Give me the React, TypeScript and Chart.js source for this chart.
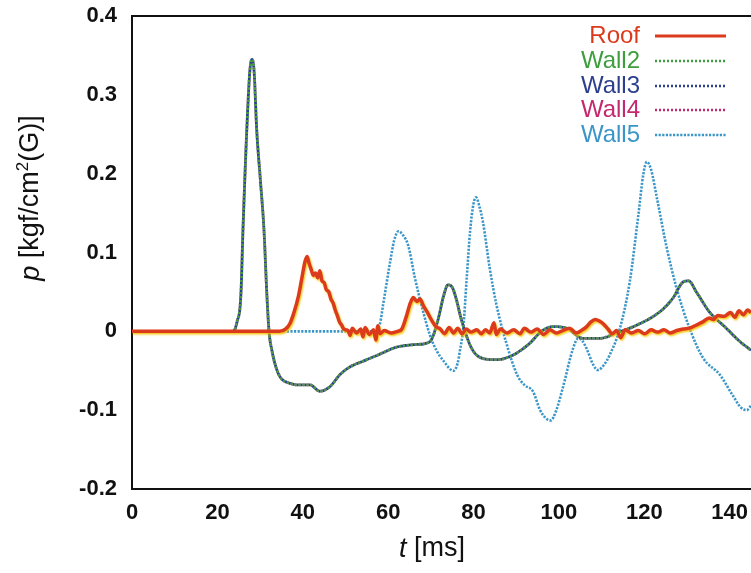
import React, { useEffect, useRef } from "react";
import { Chart, registerables } from "chart.js";

Chart.register(...registerables);

// ---- data ----
const seriesNames = ["Roof", "Wall2", "Wall3", "Wall4", "Wall5"];
const seriesColors = ["#dc3a1c", "#3c9e3c", "#2c3f8e", "#c4286e", "#3a96c8"];
const xTickValues = [0, 20, 40, 60, 80, 100, 120, 140];
const yTickValues = [-0.2, -0.1, 0, 0.1, 0.2, 0.3, 0.4];
const xRange = [0, 145];
const yRange = [-0.2, 0.4];

const roofTime = [
  0, 34.5, 36.0, 37.0, 38.0, 39.0, 39.8, 40.5, 41.0, 41.5, 42.0, 42.5, 43.0, 43.5, 44.0, 44.5, 45.0,
  45.5, 46.1, 46.6, 47.1, 47.6, 48.1, 48.6, 49.1, 49.6, 50.6, 51.1, 51.6, 52.6, 53.6, 54.1, 54.6, 55.6,
  56.6, 57.1, 57.6, 58.1, 59.1, 60.7, 62.2, 63.2, 64.2, 65.2, 65.9, 66.7, 67.5, 68.2, 69.2, 70.2, 71.2,
  72.2, 73.2, 74.3, 75.3, 76.3, 77.3, 78.3, 79.3, 80.8, 81.8, 82.8, 83.8, 84.8, 85.3, 86.3, 87.8, 89.4,
  90.9, 91.9, 93.4, 94.9, 96.4, 97.9, 99.4, 100.9, 102.5, 104.0, 105.5, 106.5, 107.5, 108.5, 109.5,
  110.5, 111.5, 112.5, 113.5, 114.5, 115.5, 117.0, 118.6, 120.1, 121.6, 123.1, 124.6, 126.1, 127.6,
  129.1, 130.6, 132.2, 133.7, 135.2, 136.2, 137.2, 138.7, 140.2, 141.2, 142.2, 143.2, 144.2, 145.0,
];
const roofP = [
  0, 0, 0.003, 0.01, 0.025, 0.045, 0.068, 0.088, 0.095, 0.086, 0.078, 0.071, 0.074, 0.068, 0.077, 0.064,
  0.062, 0.053, 0.05, 0.041, 0.036, 0.027, 0.02, 0.012, 0.008, 0.003, 0.001, -0.005, 0.004, -0.002,
  0.003, -0.007, 0.005, -0.004, 0.002, -0.011, 0.007, -0.003, 0.001, -0.002, 0, 0.003, 0.018, 0.036,
  0.043, 0.038, 0.041, 0.033, 0.024, 0.014, 0.006, 0.003, -0.003, 0.005, -0.002, 0.004, -0.003, 0.003,
  -0.001, 0.002, -0.003, 0.002, -0.002, 0.011, -0.004, 0.003, -0.002, 0.002, -0.003, 0.004, -0.001,
  0.003, -0.004, 0.002, -0.002, 0.001, 0.004, -0.002, 0.002, 0.006, 0.012, 0.015, 0.013, 0.009, 0.003,
  -0.003, 0.001, -0.008, 0.002, -0.002, 0.001, -0.003, 0.002, -0.001, 0.002, -0.002, 0.001, 0.003,
  0.004, 0.008, 0.012, 0.017, 0.015, 0.02, 0.019, 0.024, 0.018, 0.026, 0.021, 0.027, 0.024,
];

// Wall2, Wall3 and Wall4 coincide in the record
const wallTime = [
  0, 23.7, 24.6, 25.5, 26.0, 26.9, 27.6, 28.1, 28.6, 29.2, 30.1, 30.9, 31.6, 32.1, 32.8, 33.7, 34.7,
  37.0, 39.3, 41.7, 44.0, 46.4, 48.7, 51.1, 54.1, 57.6, 62.0, 65.7, 69.0, 70.2, 71.7, 73.0, 74.0, 75.1,
  76.0, 77.0, 78.3, 79.6, 81.5, 85.4, 89.3, 93.2, 95.9, 98.6, 101.8, 105.7, 109.6, 113.5, 118.3, 123.7,
  126.7, 129.0, 130.4, 132.2, 135.2, 139.2, 142.2, 145.0,
];
const wall2P = [
  0, 0, 0.012, 0.046, 0.13, 0.257, 0.33, 0.345, 0.33, 0.257, 0.19, 0.13, 0.046, 0, -0.025, -0.045,
  -0.058, -0.066, -0.068, -0.068, -0.076, -0.07, -0.055, -0.045, -0.038, -0.03, -0.02, -0.017, -0.015,
  -0.01, 0.015, 0.045, 0.059, 0.055, 0.04, 0.018, -0.005, -0.022, -0.033, -0.036, -0.03, -0.015, 0,
  0.006, 0.004, -0.009, -0.009, -0.002, 0.008, 0.025, 0.042, 0.062, 0.064, 0.05, 0.025, 0.004, -0.012,
  -0.024,
];
const wall3P = wall2P;
const wall4P = wall2P;

const wall5Time = [
  0, 56.6, 58.1, 58.8, 60.5, 61.4, 62.4, 63.5, 64.7, 66.3, 68.2, 69.8, 71.4, 72.9, 75.3, 76.3, 76.8,
  77.6, 78.4, 79.2, 80.0, 80.6, 81.4, 82.2, 83.8, 85.4, 87.8, 90.2, 91.9, 93.9, 95.6, 96.9, 98.1, 99.4,
  100.9, 103.3, 104.5, 105.5, 106.5, 108.0, 109.1, 110.5, 111.9, 114.3, 116.6, 118.6, 119.8, 120.6,
  121.6, 123.0, 125.3, 127.6, 130.6, 133.8, 137.7, 140.7, 142.7, 144.0, 145.0,
];
const wall5P = [
  0, 0, 0.01, 0.033, 0.089, 0.115, 0.127, 0.122, 0.109, 0.067, 0.025, -0.005, -0.025, -0.037, -0.05,
  -0.04, -0.025, 0.004, 0.067, 0.127, 0.162, 0.17, 0.158, 0.139, 0.08, 0.033, -0.017, -0.055, -0.068,
  -0.076, -0.1, -0.11, -0.113, -0.1, -0.072, -0.022, -0.009, -0.012, -0.022, -0.042, -0.049, -0.043,
  -0.03, 0.004, 0.063, 0.147, 0.2, 0.215, 0.205, 0.168, 0.105, 0.054, 0.004, -0.034, -0.055, -0.081,
  -0.097, -0.1, -0.094,
];

const pts = (t: number[], p: number[]) => t.map((x, i) => ({ x, y: p[i] }));

const FONT = "'Liberation Sans', Arial, Helvetica, sans-serif";

const roofGlow = {
  id: "roofGlow",
  beforeDatasetDraw(chart: any, args: any) {
    if (args.index === 0) {
      const c = chart.ctx;
      c.save();
      c.shadowColor = "rgba(246,196,0,0.95)";
      c.shadowBlur = 2;
      c.shadowOffsetX = 1;
      c.shadowOffsetY = 1.5;
    }
  },
  afterDatasetDraw(chart: any, args: any) {
    if (args.index === 0) chart.ctx.restore();
  },
};

const decorations = {
  id: "decorations",
  afterDraw(chart: any) {
    const c = chart.ctx;
    const a = chart.chartArea;
    c.save();
    // top frame line
    c.strokeStyle = "#111";
    c.lineWidth = 2;
    c.beginPath();
    c.moveTo(a.left, a.top);
    c.lineTo(a.right, a.top);
    c.stroke();

    // legend
    const ds = chart.data.datasets;
    const rowY = [35, 60, 85, 109, 134];
    c.font = `24px ${FONT}`;
    c.textAlign = "right";
    c.textBaseline = "middle";
    ds.forEach((d: any, i: number) => {
      c.fillStyle = d.borderColor;
      c.fillText(d.label, 640, rowY[i] + 1);
      c.beginPath();
      c.strokeStyle = d.borderColor;
      c.lineWidth = i === 0 ? 3 : 2.5;
      c.setLineDash(d.borderDash || []);
      c.moveTo(655, rowY[i] + 1);
      c.lineTo(726, rowY[i] + 1);
      c.stroke();
    });
    c.setLineDash([]);

    // y title: p [kgf/cm2(G)]
    c.fillStyle = "#111";
    c.translate(31, 198);
    c.rotate(-Math.PI / 2);
    c.textAlign = "left";
    c.textBaseline = "middle";
    const big = 27;
    const parts: [string, string, number][] = [
      ["p", `italic ${big}px ${FONT}`, 0],
      [" [kgf/cm", `${big}px ${FONT}`, 0],
      ["2", `${Math.round(big * 0.62)}px ${FONT}`, -8],
      ["(G)]", `${big}px ${FONT}`, 0],
    ];
    let total = 0;
    parts.forEach(([s, f]) => {
      c.font = f;
      total += c.measureText(s).width;
    });
    let x = -total / 2;
    parts.forEach(([s, f, dy]) => {
      c.font = f;
      c.fillText(s, x, dy);
      x += c.measureText(s).width;
    });
    c.restore();

    // x title: t [ms]
    c.save();
    c.fillStyle = "#111";
    c.textBaseline = "middle";
    c.textAlign = "left";
    const xp: [string, string][] = [
      ["t", `italic ${big}px ${FONT}`],
      [" [ms]", `${big}px ${FONT}`],
    ];
    let tw = 0;
    xp.forEach(([s, f]) => {
      c.font = f;
      tw += c.measureText(s).width;
    });
    let xx = 432 - tw / 2;
    xp.forEach(([s, f]) => {
      c.font = f;
      c.fillText(s, xx, 549);
      xx += c.measureText(s).width;
    });
    c.restore();
  },
};

export default function App() {
  const ref = useRef<HTMLCanvasElement | null>(null);

  useEffect(() => {
    document.body.style.margin = "0";
    const canvas = ref.current;
    if (!canvas) return;
    const dash = [2, 2];
    const chart = new Chart(canvas, {
      type: "line",
      data: {
        datasets: [
          {
            label: seriesNames[0],
            data: pts(roofTime, roofP),
            borderColor: seriesColors[0],
            borderWidth: 3.5,
          },
          {
            label: seriesNames[1],
            data: pts(wallTime, wall2P),
            borderColor: seriesColors[1],
            borderWidth: 2.8,
            borderDash: dash,
          },
          {
            label: seriesNames[2],
            data: pts(wallTime, wall3P),
            borderColor: seriesColors[2],
            borderWidth: 2.8,
            borderDash: dash,
            borderDashOffset: 2,
          },
          {
            label: seriesNames[3],
            data: pts(wallTime, wall4P),
            borderColor: seriesColors[3],
            borderWidth: 2.8,
            borderDash: dash,
          },
          {
            label: seriesNames[4],
            data: pts(wall5Time, wall5P),
            borderColor: seriesColors[4],
            borderWidth: 2.6,
            borderDash: [2.2, 1.4],
          },
        ] as any,
      },
      options: {
        animation: false,
        responsive: false,
        maintainAspectRatio: false,
        elements: {
          point: { radius: 0, hoverRadius: 0 },
          line: { tension: 0.3, cubicInterpolationMode: "monotone", fill: false },
        },
        layout: { padding: { top: 16, right: 0, left: 0, bottom: 0 } },
        plugins: {
          legend: { display: false },
          tooltip: { enabled: false },
          title: { display: false },
        },
        scales: {
          x: {
            type: "linear",
            min: xRange[0],
            max: xRange[1],
            afterBuildTicks(s: any) {
              s.ticks = xTickValues.map((v) => ({ value: v }));
            },
            afterFit(s: any) {
              s.height = 84;
              s.paddingLeft = 0;
              s.paddingRight = 0;
            },
            grid: { display: false, drawTicks: false },
            border: { display: true, color: "#111", width: 2 },
            ticks: {
              color: "#111",
              font: { family: FONT, size: 22, weight: "bold" },
              padding: 11,
              maxRotation: 0,
              autoSkip: false,
              callback: (v: any) => String(v),
            },
          },
          y: {
            type: "linear",
            min: yRange[0],
            max: yRange[1],
            afterBuildTicks(s: any) {
              s.ticks = yTickValues.map((v) => ({ value: v }));
            },
            afterFit(s: any) {
              s.width = 132;
              s.paddingTop = 0;
              s.paddingBottom = 0;
            },
            grid: { display: false, drawTicks: false },
            border: { display: true, color: "#111", width: 2 },
            ticks: {
              color: "#111",
              font: { family: FONT, size: 22, weight: "bold" },
              padding: 15,
              autoSkip: false,
              callback: (v: any) => String(Math.round(Number(v) * 10) / 10),
            },
          },
        },
      } as any,
      plugins: [roofGlow, decorations],
    });
    return () => chart.destroy();
  }, []);

  return (
    <div style={{ width: 751, height: 573, background: "#fff" }}>
      <canvas ref={ref} width={751} height={573} style={{ display: "block" }} />
    </div>
  );
}
